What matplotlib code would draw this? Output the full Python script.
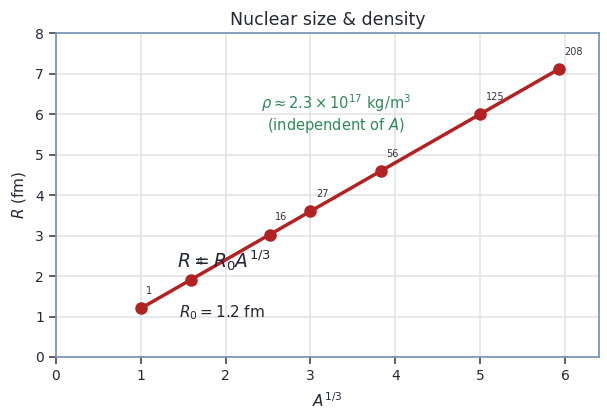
import numpy as np
import matplotlib.pyplot as plt
import seaborn as sns

mass_numbers = [1, 4, 16, 27, 56, 125, 208]
r0 = 1.2
a_third = [a ** (1 / 3) for a in mass_numbers]
radius = [r0 * x for x in a_third]

sns.set_theme(style='whitegrid')
plt.rcParams['font.family'] = ['DejaVu Sans']

fig, ax = plt.subplots(figsize=(6.07, 4.19), dpi=100)

ax.plot(a_third, radius, '-o', color='#b22222', lw=2.5, ms=8, zorder=3)

for a, x, r in zip(mass_numbers, a_third, radius):
    ax.annotate(str(a), (x, r), xytext=(4, 9), textcoords='offset points',
                fontsize=7, color='#333340', ha='left', va='bottom')

ax.text(1.43, 2.37, r'$R = R_0 A^{1/3}$', fontsize=13.5, color='#262637',
        ha='left', va='center', zorder=4)
ax.text(1.45, 1.1, r'$R_0 = 1.2$ fm', fontsize=11, color='#262637',
        ha='left', va='center')
ax.text(3.3, 6.27, r'$\rho \approx 2.3\times10^{17}$ kg/m$^3$', fontsize=10.5,
        color='#2e8b57', ha='center', va='center')
ax.text(3.3, 5.72, r'(independent of $A$)', fontsize=10.5,
        color='#2e8b57', ha='center', va='center')

ax.set_xlim(0, 6.4)
ax.set_ylim(0, 8)
ax.set_xticks(range(0, 7))
ax.set_yticks(range(0, 9))
ax.set_xlabel(r'$A^{1/3}$', fontsize=11, color='#262637', labelpad=6)
ax.set_ylabel(r'$R$ (fm)', fontsize=11, color='#262637', labelpad=5)
ax.set_title('Nuclear size & density', fontsize=12.5, color='#262637')

ax.grid(True, color='#e2e2e2', lw=1.1)
for s in ax.spines.values():
    s.set_color('#7090b8')
    s.set_linewidth(1.2)
ax.tick_params(axis='both', which='both', direction='out', length=5, width=1.2,
               color='#444444', labelsize=10, labelcolor='#262637',
               bottom=True, left=True)

fig.subplots_adjust(left=0.092, right=0.987, top=0.921, bottom=0.148)
fig.savefig('out.png', dpi=100)
